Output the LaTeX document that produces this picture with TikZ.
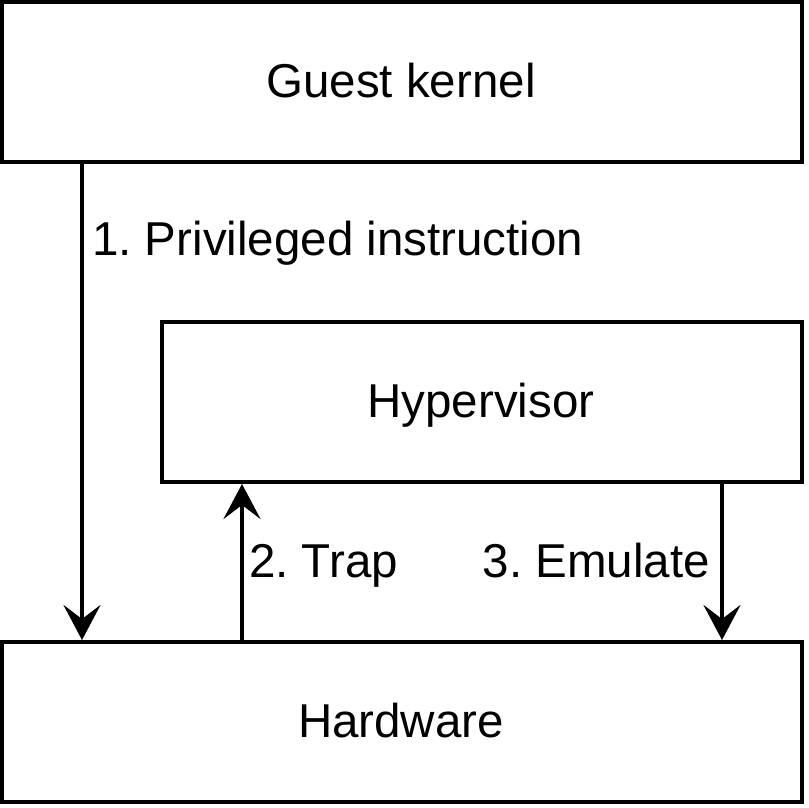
\documentclass[tikz,border=0pt]{standalone}
\usepackage{fontspec}
\setmainfont{Liberation Sans}
\usetikzlibrary{arrows.meta}
\begin{document}
\frenchspacing
\begin{tikzpicture}[x=1pt,y=-1pt,
  box/.style={draw=black,line width=4pt,fill=white,inner sep=0pt,
    minimum width=800pt,font=\fontsize{47.5}{57}\selectfont},
  lbl/.style={inner sep=0pt,font=\fontsize{47.5}{57}\selectfont},
  arr/.style={line width=4pt,-{Stealth[length=35pt,width=37pt,inset=14pt]}}]
\useasboundingbox (0,0) rectangle (808,808);
\node[box,minimum height=160pt] (guest) at (402,82) {};
\node[box,minimum width=640pt,minimum height=160pt] (hyp) at (482,402) {};
\node[box,minimum height=160pt] (hw) at (402,722) {};
\node[lbl,anchor=base] (tg) at (401,97) {Guest kernel};
\node[lbl,anchor=base] (th) at (481,417) {Hypervisor};
\node[lbl,anchor=base] (tw) at (401,737) {Hardware};
\coordinate (c1) at (82,0);
\coordinate (c2) at (242,0);
\coordinate (c3) at (722,0);
\draw[arr] (guest.south -| c1) -- (hw.north -| c1);
\draw[arr] (hw.north -| c2) -- (hyp.south -| c2);
\draw[arr] (hyp.south -| c3) -- (hw.north -| c3);
\node[lbl,anchor=base west] (l1) at (92,255) {1. Privileged instruction};
\node[lbl,anchor=base west] (l2) at (249,577) {2. Trap};
\node[lbl,anchor=base east] (l3) at (710,577) {3. Emulate};
\end{tikzpicture}
\end{document}
